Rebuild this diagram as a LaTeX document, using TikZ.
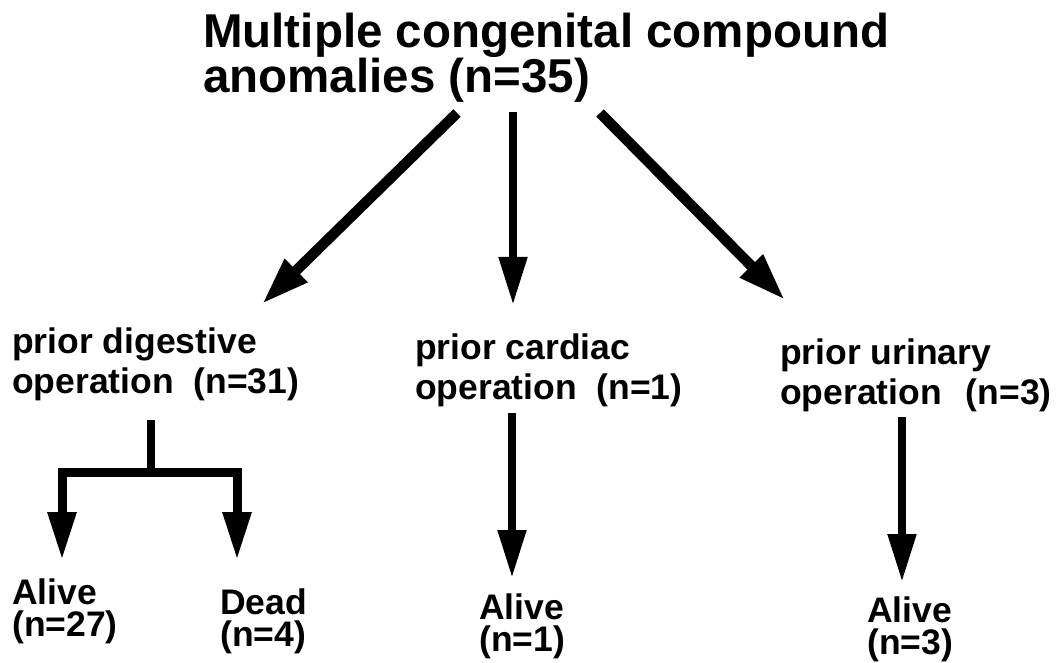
\documentclass[tikz,border=0pt]{standalone}
\usepackage{fontspec}
\setmainfont{Liberation Sans}
\usetikzlibrary{arrows.meta}

\begin{document}
\begin{tikzpicture}[x=1pt,y=-1pt,
		headtext/.style={anchor=base west,inner sep=0pt,align=left,font=\bfseries\fontsize{47.5}{45}\selectfont},
		optext/.style={anchor=base west,inner sep=0pt,align=left,font=\bfseries\fontsize{35.5}{39.5}\selectfont},
		outtext/.style={anchor=base west,inner sep=0pt,align=left,font=\bfseries\fontsize{35.5}{32}\selectfont},
		fatarrow/.style={line width=10.5pt,-{Triangle[length=48pt,width=30pt]}},
		downarrow/.style={line width=8pt,-{Triangle[length=48pt,width=27pt]}}]
		\useasboundingbox (0,0) rectangle (1058,663);
		
		%title (base = last line)
		\node[headtext] (title) at (203,93) {Multiple congenital compound\\anomalies (n=35)};
		
		%operations
		\node[optext] (dig) at (12,393) {prior digestive\\operation\ \ (n=31)};
		\node[optext] (card) at (415,399) {prior cardiac\\operation\ \ (n=1)};
		\node[optext] (uri) at (780,404) {prior urinary\\operation\hspace{0.4em}\ (n=3)};
		
		%outcomes
		\node[outtext] (alive1) at (12,636) {Alive\\(n=27)};
		\node[outtext] (dead1) at (220,646) {Dead\\(n=4)};
		\node[outtext] (alive2) at (479,651) {Alive\\(n=1)};
		\node[outtext] (alive3) at (867,654) {Alive\\(n=3)};
		
		%arrow ends
		\coordinate (t-l) at (457,113);
		\coordinate (t-m) at (513,112);
		\coordinate (t-r) at (600,113);
		\coordinate (dig-in) at (262,304);
		\coordinate (card-in) at (513,305);
		\coordinate (uri-in) at (785,300);
		\coordinate (dig-out) at (151,420);
		\coordinate (fork) at (151,472);
		\coordinate (alive1-in) at (62,560);
		\coordinate (dead1-in) at (237,560);
		\coordinate (card-out) at (512,413);
		\coordinate (alive2-in) at (512,578);
		\coordinate (uri-out) at (902,417);
		\coordinate (alive3-in) at (902,582);
		
		%arrows:
		\draw[fatarrow] (t-l) -- (dig-in);
		\draw[downarrow] (t-m) -- (card-in);
		\draw[fatarrow] (t-r) -- (uri-in);
		
		\draw[line width=8pt] (dig-out) -- (fork);
		\draw[line width=9pt,miter limit=10,{Triangle[length=48pt,width=27pt]}-{Triangle[length=48pt,width=27pt]}] (alive1-in) |- (fork) -| (dead1-in);
		\draw[downarrow] (card-out) -- (alive2-in);
		\draw[downarrow] (uri-out) -- (alive3-in);
		
\end{tikzpicture}
\end{document}
